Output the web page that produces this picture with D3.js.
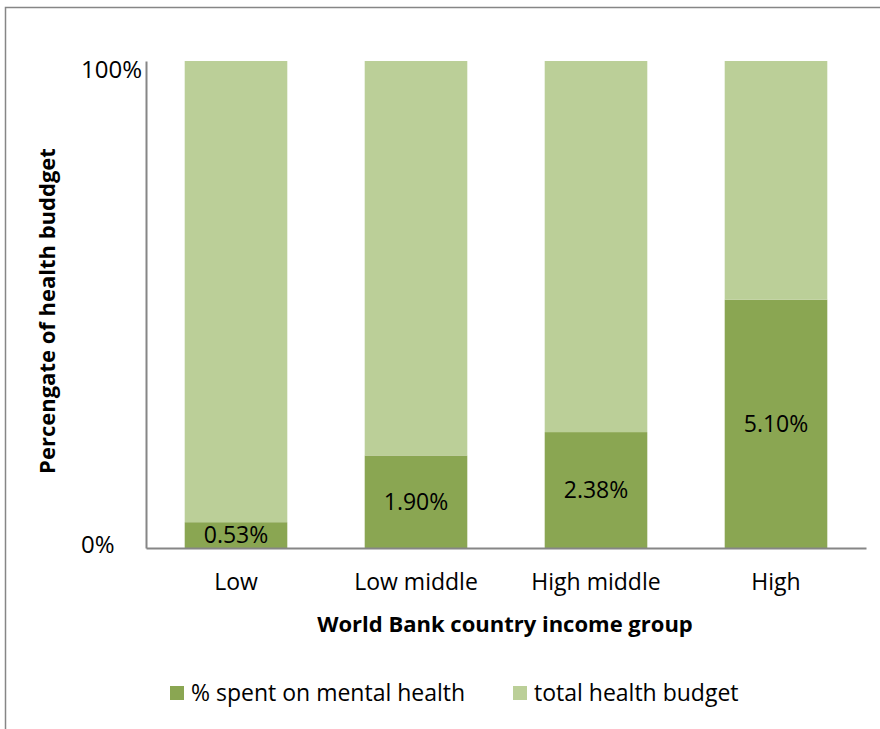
<!DOCTYPE html>
<html>
<head>
<meta charset="utf-8">
<script src="https://cdn.jsdelivr.net/npm/d3@7"></script>
<style>
  html, body { margin: 0; padding: 0; background: #fff; }
  svg { display: block; font-family: "Open Sans", "Noto Sans", sans-serif; }
</style>
</head>
<body>
<svg id="chart" width="880" height="729"></svg>
<script>
// Income groups and the share of the health budget spent on mental health
const categories = ["Low", "Low middle", "High middle", "High"];
const mentalHealth = [0.53, 1.90, 2.38, 5.10];
const totalBudget = [9.47, 8.10, 7.62, 4.90];
const valueLabels = ["0.53%", "1.90%", "2.38%", "5.10%"];
const yTickValues = [0, 10];
const yTickLabels = ["0%", "100%"];
const seriesNames = ["% spent on mental health", "total health budget"];

const colors = { mental: "#8aa652", total: "#bbcf98", axis: "#868686", text: "#000" };

const svg = d3.select("#chart");

// outer chart frame (runs past the right and bottom edges)
svg.append("rect")
  .attr("x", 5.5).attr("y", 7.5)
  .attr("width", 900).attr("height", 760)
  .attr("fill", "none").attr("stroke", colors.axis).attr("stroke-width", 1.5);

const plot = { left: 146, right: 866, top: 61, bottom: 548 };

const x = d3.scaleBand()
  .domain(categories)
  .range([plot.left, plot.right])
  .paddingInner(0.43).paddingOuter(0.215);

const y = d3.scaleLinear()
  .domain([0, 10])
  .range([plot.bottom, plot.top]);

const rows = categories.map((c, i) => ({ cat: c, mental: mentalHealth[i], total: totalBudget[i], label: valueLabels[i] }));
const stacked = d3.stack().keys(["mental", "total"])(rows);
const fills = [colors.mental, colors.total];

svg.append("g").selectAll("g")
  .data(stacked)
  .join("g")
  .attr("fill", (d, i) => fills[i])
  .selectAll("rect")
  .data(d => d)
  .join("rect")
  .attr("x", d => x(d.data.cat))
  .attr("width", x.bandwidth())
  .attr("y", d => y(d[1]))
  .attr("height", d => y(d[0]) - y(d[1]));

// value labels centred in the mental-health segment
svg.append("g").selectAll("text")
  .data(stacked[0])
  .join("text")
  .attr("x", d => x(d.data.cat) + x.bandwidth() / 2)
  .attr("y", d => (y(d[0]) + y(d[1])) / 2)
  .attr("dy", "0.36em")
  .attr("text-anchor", "middle")
  .attr("font-size", 23)
  .attr("fill", colors.text)
  .text(d => d.data.label);

// y axis: labels left-aligned in the margin, 100% sits just under the top
const yLabelShift = { 0: -4, 10: 8 };
const yAxis = svg.append("g")
  .attr("transform", `translate(${plot.left},0)`)
  .call(d3.axisLeft(y).tickValues(yTickValues).tickSize(0)
    .tickFormat((d, i) => yTickLabels[i]));
yAxis.select(".domain").attr("stroke", colors.axis).attr("stroke-width", 2);
yAxis.selectAll("text")
  .attr("font-size", 24).attr("fill", colors.text)
  .attr("font-family", "Open Sans, sans-serif")
  .attr("text-anchor", "start")
  .attr("x", -65)
  .attr("y", d => yLabelShift[d])
  .attr("dy", "0.36em");

// x axis
const xAxis = svg.append("g")
  .attr("transform", `translate(0,${plot.bottom})`)
  .call(d3.axisBottom(x).tickSize(0).tickPadding(26));
xAxis.select(".domain").attr("stroke", colors.axis).attr("stroke-width", 2);
xAxis.selectAll("text").attr("font-size", 23).attr("fill", colors.text)
  .attr("font-family", "Open Sans, sans-serif");

// axis titles
svg.append("text")
  .attr("x", 505).attr("y", 632)
  .attr("text-anchor", "middle")
  .attr("font-size", 22).attr("font-weight", "bold")
  .attr("fill", colors.text)
  .text("World Bank country income group");

svg.append("text")
  .attr("transform", "translate(55,311) rotate(-90)")
  .attr("text-anchor", "middle")
  .attr("font-size", 22).attr("font-weight", "bold")
  .attr("fill", colors.text)
  .text("Percengate of health buddget");

// legend
const legendX = [170, 513];
const legend = svg.append("g").selectAll("g")
  .data(seriesNames)
  .join("g")
  .attr("transform", (d, i) => `translate(${legendX[i]},686)`);
legend.append("rect")
  .attr("width", 14).attr("height", 14)
  .attr("fill", (d, i) => fills[i]);
legend.append("text")
  .attr("x", 21).attr("y", 7).attr("dy", "0.36em")
  .attr("font-size", 23).attr("fill", colors.text)
  .text(d => d);
</script>
</body>
</html>
